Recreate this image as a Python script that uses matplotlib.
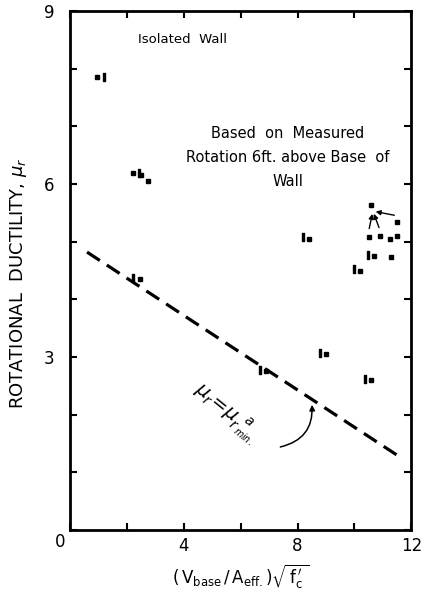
import matplotlib
matplotlib.use("Agg")
import matplotlib.pyplot as plt
import matplotlib.transforms as mtransforms
import numpy as np

plt.rcParams['font.family'] = ['DejaVu Sans']
plt.rcParams['mathtext.fontset'] = 'dejavusans'

# Measured rotational ductility of isolated walls
shear_stress = [0.95, 2.2, 2.5, 2.75, 2.45, 6.9, 8.4, 9.0, 10.6,
                10.6, 11.5, 10.5, 10.9, 11.25, 11.5, 10.7, 11.3, 10.2]
ductility = [7.85, 6.2, 6.15, 6.05, 4.35, 2.75, 5.05, 3.05, 2.6,
             5.63, 5.35, 5.08, 5.1, 5.05, 5.1, 4.75, 4.73, 4.5]
# specimens tagged with a bar glyph beside the marker
tag_right = [0, 1]
tag_left = [4, 5, 6, 7, 8, 15, 17]

# Minimum required ductility line
min_line_x = [0.6, 11.65]
min_line_y = [4.82, 1.25]

x_ticks = [0, 4, 8, 12]
x_tick_labels = ['', '4', '8', '12']
y_ticks = [0, 3, 6, 9]
y_tick_labels = ['', '3', '6', '9']

fig = plt.figure(figsize=(4.24, 6.02), dpi=100)
ax = fig.add_axes([0.165, 0.1196, 0.805, 0.862])
ax.set_xlim(0, 12)
ax.set_ylim(0, 9)

for s in ax.spines.values():
    s.set_linewidth(2.0)

ax.set_xticks(x_ticks)
ax.set_xticklabels(x_tick_labels)
ax.set_xticks([2, 6, 10], minor=True)
ax.set_yticks(y_ticks)
ax.set_yticklabels(y_tick_labels)
ax.set_yticks([1, 2, 4, 5, 7, 8], minor=True)
ax.tick_params(which='both', direction='in', top=True, right=True,
               length=5, width=1.5, labelsize=12)
ax.tick_params(axis='x', pad=5)
ax.tick_params(axis='y', pad=11)
ax.text(-0.35, -0.05, '0', fontsize=12, ha='center', va='top')

# dashed minimum line
ax.plot(min_line_x, min_line_y, color='black', lw=2.3,
        dashes=(4.8, 2.6), solid_capstyle='butt', dash_capstyle='butt')

# data markers
ax.plot(shear_stress, ductility, linestyle='none', marker='s',
        markersize=3.2, color='black')
off_l = mtransforms.offset_copy(ax.transData, fig=fig, x=-4.5, y=1, units='points')
off_r = mtransforms.offset_copy(ax.transData, fig=fig, x=5, y=0, units='points')
ax.plot([shear_stress[i] for i in tag_left], [ductility[i] for i in tag_left],
        linestyle='none', marker=r'$\mathrm{I}$', markersize=6, color='black',
        transform=off_l)
ax.plot([shear_stress[i] for i in tag_right], [ductility[i] for i in tag_right],
        linestyle='none', marker=r'$\mathrm{I}$', markersize=6, color='black',
        transform=off_r)

# leader arrows in the upper-right cluster
for j in (11, 12, 10):
    ax.annotate('', xy=(shear_stress[9] + 0.05, ductility[9] - 0.1),
                xytext=(shear_stress[j], ductility[j] + 0.1),
                arrowprops=dict(arrowstyle='-|>', color='black', lw=1.0,
                                mutation_scale=7))

ax.text(3.95, 8.5, 'Isolated  Wall', fontsize=9.5, ha='center', va='center')
ax.text(7.66, 6.46, 'Based  on  Measured\nRotation 6ft. above Base  of\nWall',
        fontsize=10.5, ha='center', va='center', linespacing=1.75)

ax.text(5.5, 2.03, r'$\mu_r\!=\!\mu_{r_{\,min.}}^{\;\;a}$', fontsize=14,
        rotation=-39, ha='center', va='center')
ax.annotate('', xy=(8.5, 2.22), xytext=(7.3, 1.43),
            arrowprops=dict(arrowstyle='-|>', color='black', lw=1.1,
                            mutation_scale=8,
                            connectionstyle='arc3,rad=0.45'))

ax.set_ylabel(r'ROTATIONAL  DUCTILITY, $\mu_r$', fontsize=13)
ax.yaxis.set_label_coords(-0.12, 0.475)
ax.set_xlabel(r'$(\,\mathrm{V_{base}\,/\,A_{eff.}})\sqrt{\,\mathrm{f^{\,\prime}_{c}}\,}$',
              fontsize=12, labelpad=6)

fig.savefig('out.png', dpi=100)
